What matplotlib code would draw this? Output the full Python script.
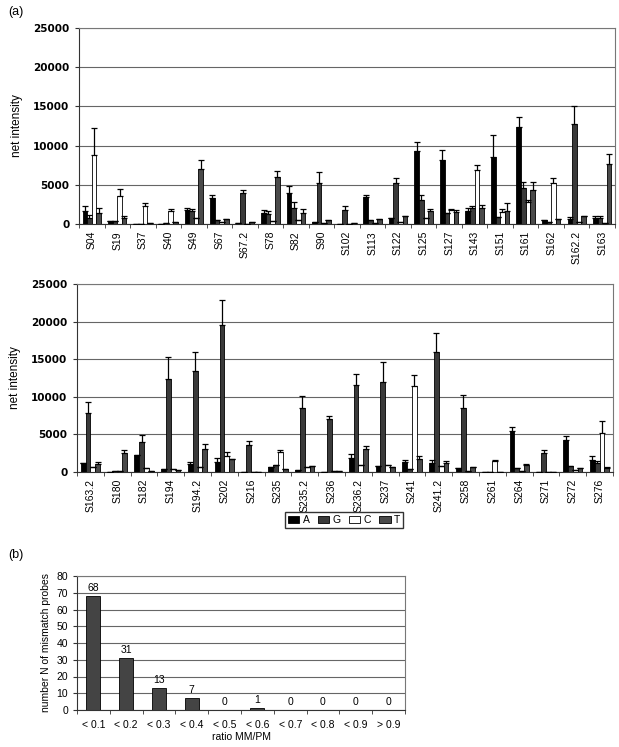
import numpy as np
import matplotlib
matplotlib.use("Agg")
import matplotlib.pyplot as plt

plt.rcParams['font.family'] = ['Liberation Sans', 'DejaVu Sans']

# ---------------- data: panel (a) top ----------------
top_labels = ["S04", "S19", "S37", "S40", "S49", "S67", "S67.2", "S78", "S82", "S90",
              "S102", "S113", "S122", "S125", "S127", "S143", "S151", "S161", "S162",
              "S162.2", "S163"]
top_A = [1700, 400, 50, 50, 1800, 3260, 100, 1400, 3950, 200, 30, 3400, 760, 9320, 8200,
         1700, 8560, 12370, 500, 600, 760]
top_A_err = [550, 0, 0, 0, 200, 440, 0, 350, 850, 0, 0, 250, 0, 1080, 1300, 300, 2790,
             1230, 0, 300, 210]
top_G = [800, 400, 50, 150, 1700, 550, 4000, 1300, 2050, 5170, 1800, 450, 5250, 3100,
         1400, 2050, 900, 4530, 200, 12750, 760]
top_G_err = [300, 0, 0, 0, 150, 0, 350, 300, 700, 1430, 550, 0, 650, 550, 0, 200, 0,
             810, 0, 2330, 210]
top_C = [8800, 3600, 2250, 1600, 760, 300, 50, 330, 550, 100, 30, 100, 200, 760, 1750,
         6860, 1570, 2840, 5200, 300, 100]
top_C_err = [3500, 850, 400, 350, 0, 0, 0, 0, 0, 0, 0, 0, 0, 0, 120, 640, 330, 250,
             730, 0, 0]
top_T = [1400, 760, 100, 250, 7000, 650, 200, 6050, 1400, 450, 120, 600, 970, 1700,
         1500, 2050, 1700, 4360, 680, 1000, 7670]
top_T_err = [600, 290, 0, 0, 1100, 0, 0, 750, 500, 0, 0, 0, 0, 250, 250, 320, 930,
             1060, 0, 0, 1270]

# ---------------- data: panel (a) bottom ----------------
bot_labels = ["S163.2", "S180", "S182", "S194", "S194.2", "S202", "S216", "S235",
              "S235.2", "S236", "S236.2", "S237", "S241", "S241.2", "S258", "S261",
              "S264", "S271", "S272", "S276"]
bot_A = [1190, 50, 2250, 350, 1100, 1370, 20, 660, 220, 20, 1860, 750, 1370, 1150, 530,
         40, 5390, 30, 4280, 1630]
bot_A_err = [0, 0, 0, 0, 270, 440, 0, 0, 0, 0, 530, 0, 260, 400, 0, 0, 660, 0, 530, 530]
bot_G = [7860, 130, 4020, 12370, 13470, 19520, 3530, 880, 8570, 7070, 11620, 11970, 400,
         15950, 8520, 30, 490, 2520, 750, 1190]
bot_G_err = [1500, 0, 930, 2870, 2430, 3320, 530, 0, 1500, 440, 1370, 2610, 0, 2550,
             1770, 0, 0, 350, 0, 220]
bot_C = [700, 100, 530, 400, 700, 2080, 30, 2600, 620, 130, 930, 880, 11440, 750, 90,
         1410, 130, 30, 310, 5170]
bot_C_err = [0, 0, 0, 0, 0, 520, 0, 360, 0, 0, 0, 100, 1500, 0, 0, 220, 0, 0, 0, 1630]
bot_T = [1100, 2520, 130, 220, 3000, 1720, 30, 440, 750, 130, 3000, 620, 1720, 1240, 660,
         30, 880, 30, 530, 490]
bot_T_err = [200, 440, 0, 0, 710, 0, 0, 0, 0, 0, 400, 0, 440, 220, 0, 0, 220, 0, 0, 170]

# ---------------- data: panel (b) ----------------
ratio_labels = ["< 0.1", "< 0.2", "< 0.3", "< 0.4", "< 0.5", "< 0.6", "< 0.7", "< 0.8",
                "< 0.9", "> 0.9"]
ratio_counts = [68, 31, 13, 7, 0, 1, 0, 0, 0, 0]

series_names = ["A", "G", "C", "T"]
series_colors = ["#000000", "#3a3a3a", "#ffffff", "#4a4a4a"]

W, H = 619, 747
fig = plt.figure(figsize=(W / 100, H / 100), dpi=100)


def fr(x0, y0, x1, y1):
    return [x0 / W, 1 - y1 / H, (x1 - x0) / W, (y1 - y0) / H]


def style_axes(ax):
    for s in ["top", "right"]:
        ax.spines[s].set_color("#777777")
        ax.spines[s].set_linewidth(0.8)
    ax.spines["left"].set_color("#333333")
    ax.spines["bottom"].set_color("#333333")
    ax.spines["left"].set_linewidth(0.8)
    ax.spines["bottom"].set_linewidth(0.8)
    ax.yaxis.grid(True, color="#666666", linewidth=0.8)
    ax.set_axisbelow(True)


def grouped(ax, labels, vals, errs):
    n = len(labels)
    x = np.arange(n)
    w = 0.18
    offs = [-1.5 * w, -0.5 * w, 0.5 * w, 1.5 * w]
    handles = []
    for i, (v, e) in enumerate(zip(vals, errs)):
        e = np.array(e, dtype=float)
        b = ax.bar(x + offs[i], v, w, color=series_colors[i], edgecolor="#000000",
                   linewidth=0.6, label=series_names[i], zorder=2)
        handles.append(b)
        ax.errorbar(x + offs[i], v, yerr=[np.zeros(n), e], fmt="none", ecolor="#000000",
                    elinewidth=0.9, capsize=2.2, capthick=0.9, zorder=3)
    ax.set_xlim(-0.5, n - 0.5)
    ax.set_ylim(0, 25000)
    ax.set_yticks(np.arange(0, 25001, 5000))
    ax.set_yticklabels([str(t) for t in range(0, 25001, 5000)], fontsize=7.5,
                       fontweight="bold", family="DejaVu Sans")
    ax.set_xticks(x)
    ax.set_xticklabels(labels, rotation=90, fontsize=7.5)
    ax.tick_params(axis="x", length=0, pad=5)
    ax.set_xticks(np.arange(-0.5, n, 1.0), minor=True)
    ax.tick_params(axis="x", which="minor", length=3, direction="out", color="#333333")
    ax.tick_params(axis="y", length=3, direction="out", color="#333333", pad=4)
    style_axes(ax)
    return handles


ax1 = fig.add_axes(fr(79, 28, 615, 224))
grouped(ax1, top_labels, [top_A, top_G, top_C, top_T],
        [top_A_err, top_G_err, top_C_err, top_T_err])
ax1.set_ylabel("net intensity", fontsize=8.5, labelpad=7)

ax2 = fig.add_axes(fr(77, 284, 613, 472))
hs = grouped(ax2, bot_labels, [bot_A, bot_G, bot_C, bot_T],
             [bot_A_err, bot_G_err, bot_C_err, bot_T_err])
ax2.set_ylabel("net intensity", fontsize=8.5, labelpad=7)

fig.legend(hs, series_names, loc="center", bbox_to_anchor=(344 / W, 1 - 520 / H),
           ncol=4, fontsize=7.5, frameon=True, fancybox=False, edgecolor="#333333",
           handlelength=1.1, handleheight=0.6, handletextpad=0.3, columnspacing=0.8,
           borderpad=0.25, framealpha=1)

# panel (b)
ax3 = fig.add_axes(fr(77, 576, 405, 710))
xb = np.arange(len(ratio_labels))
ax3.bar(xb, ratio_counts, 0.43, color="#444444", edgecolor="#000000", linewidth=0.6,
        zorder=2)
for xi, c in zip(xb, ratio_counts):
    ax3.text(xi, c + 1.8, str(c), ha="center", va="bottom", fontsize=7.5)
ax3.set_xlim(-0.5, len(ratio_labels) - 0.5)
ax3.set_ylim(0, 80)
ax3.set_yticks(np.arange(0, 81, 10))
ax3.tick_params(axis="y", labelsize=7.5, length=3, color="#333333")
ax3.set_xticks(xb)
ax3.set_xticklabels(ratio_labels, fontsize=7.5)
ax3.tick_params(axis="x", length=0, pad=7)
ax3.set_xticks(np.arange(-0.5, len(ratio_labels), 1.0), minor=True)
ax3.tick_params(axis="x", which="minor", length=3, direction="out", color="#333333")
style_axes(ax3)
ax3.set_ylabel("number N of mismatch probes", fontsize=7.5, labelpad=4)
ax3.set_xlabel("ratio MM/PM", fontsize=7.5, labelpad=2)

fig.text(8 / W, 1 - 12 / H, "(a)", fontsize=9, ha="left", va="center")
fig.text(8 / W, 1 - 555 / H, "(b)", fontsize=9, ha="left", va="center")

fig.savefig("out.png", dpi=100, facecolor="white")
